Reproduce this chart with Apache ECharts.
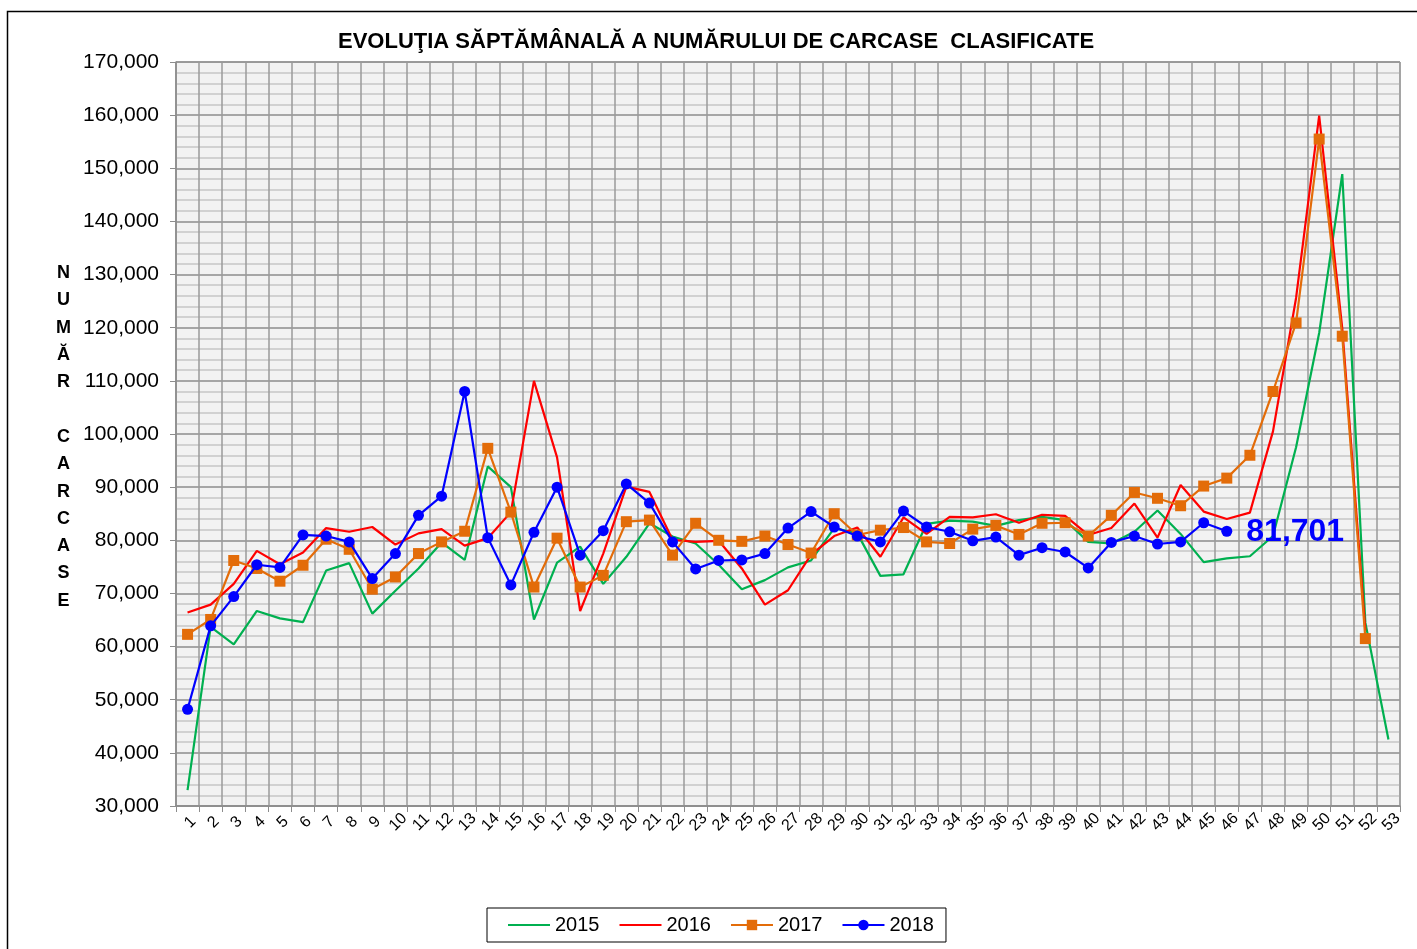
<!DOCTYPE html>
<html>
<head>
<meta charset="utf-8">
<title>Evolutia saptamanala carcase</title>
<script src="https://cdn.jsdelivr.net/npm/echarts@6/dist/echarts.min.js"></script>
<style>
	html, body { margin: 0; padding: 0; background: #fff; }
	#main { width: 1417px; height: 949px; }
</style>
</head>
<body>
<div id="main"></div>
<script>
// saptamanile 1..53
var saptamani = [];
for (var i = 1; i <= 53; i++) saptamani.push(String(i));

var ani = ['2015', '2016', '2017', '2018'];

// valori
var data2015 = [33000, 63700, 60400, 66700, 65300, 64600, 74300, 75700, 66200, 70500,
	74700, 79600, 76300, 93900, 90000, 65100, 75800, 78800, 71800, 76900,
	83200, 80700, 79400, 75400, 70800, 72500, 74900, 76200, 82300, 81300,
	73300, 73600, 83100, 83700, 83500, 82700, 83800, 84400, 83800, 79700,
	79400, 81600, 85600, 81200, 75900, 76600, 77000, 80800, 97500, 119000,
	148900, 64500, 42500];
var data2016 = [66400, 67900, 71800, 78000, 75500, 77700, 82300, 81600, 82500, 79200,
	81300, 82100, 79000, 80400, 85300, 110000, 95600, 66700, 77500, 90100,
	89100, 80100, 79700, 79900, 74700, 67900, 70600, 77300, 80800, 82400,
	76900, 84300, 81200, 84400, 84300, 84900, 83300, 84800, 84600, 81000,
	82300, 86900, 80500, 90400, 85400, 84000, 85200, 100500, 125600, 159900,
	119900, 63000];
var data2017 = [62300, 65100, 76200, 74700, 72300, 75300, 80200, 78300, 70800, 73100,
	77500, 79700, 81700, 97300, 85300, 71200, 80400, 71200, 73400, 83500,
	83800, 77200, 83200, 80000, 79800, 80800, 79200, 77600, 85000, 81000,
	81900, 82400, 79700, 79400, 82100, 82800, 81100, 83200, 83300, 80800,
	84700, 89000, 87900, 86500, 90200, 91700, 96000, 108000, 120900, 155500,
	118400, 61500];
var data2018 = [48200, 63900, 69400, 75400, 74900, 81000, 80800, 79700, 72800, 77500,
	84700, 88300, 108000, 80500, 71600, 81500, 90000, 77200, 81800, 90600,
	87000, 79700, 74600, 76200, 76300, 77500, 82300, 85400, 82500, 80800,
	79700, 85500, 82500, 81600, 79900, 80600, 77200, 78600, 77800, 74800,
	79600, 80800, 79300, 79700, 83300, 81701];

var culori = ['#00b050', '#ff0000', '#e36c09', '#0000ff'];
var fontText = '"Liberation Sans", Arial, sans-serif';

function fmt(v) {
	return Number(v).toLocaleString('en-US');
}

// ultima valoare 2018 cu eticheta mare
var serie2018 = data2018.map(function(v, idx) {
	if (idx === data2018.length - 1) {
		return {
			value: v,
			label: {
				show: true,
				position: 'right',
				offset: [9, 1],
				formatter: function(p) { return fmt(p.value); },
				fontSize: 32,
				fontWeight: 'bold',
				fontFamily: fontText,
				color: '#0000ff'
			}
		};
	}
	return v;
});

var myChart = echarts.init(document.getElementById('main'));
var option;

option = {
	backgroundColor: '#ffffff',
	textStyle: { fontFamily: fontText },
	animation: false,
	title: {
		text: 'EVOLUŢIA SĂPTĂMÂNALĂ A NUMĂRULUI DE CARCASE  CLASIFICATE',
		left: 333,
		top: 26,
		textStyle: {
			fontSize: 22,
			fontWeight: 'bold',
			color: '#000',
			fontFamily: fontText
		}
	},
	graphic: [
		{
			type: 'rect',
			shape: { x: 7.5, y: 11.5, width: 1430, height: 960 },
			style: { fill: 'none', stroke: '#000', lineWidth: 1.5 },
			silent: true
		},
		{
			type: 'text',
			x: 63.5,
			y: 437,
			style: {
				text: 'N\nU\nM\nĂ\nR\n\nC\nA\nR\nC\nA\nS\nE',
				align: 'center',
				verticalAlign: 'middle',
				lineHeight: 27.3,
				fontSize: 18,
				fontWeight: 'bold',
				fontFamily: fontText,
				fill: '#000'
			}
		}
	],
	legend: {
		// 2015 si 2016 fara marker in legenda
		data: [
			{ name: ani[0], itemStyle: { opacity: 0 } },
			{ name: ani[1], itemStyle: { opacity: 0 } },
			{ name: ani[2] },
			{ name: ani[3] }
		],
		left: 487,
		bottom: 7,
		padding: [7, 12, 7, 20],
		itemGap: 19,
		itemWidth: 42,
		itemHeight: 13,
		borderColor: '#000',
		borderWidth: 1,
		borderRadius: 0,
		textStyle: {
			fontSize: 20,
			color: '#000',
			fontFamily: fontText
		}
	},
	grid: {
		left: 176,
		right: 17,
		top: 62,
		bottom: 143,
		show: true,
		backgroundColor: '#f2f2f2',
		borderColor: '#8c8c8c',
		borderWidth: 1
	},
	xAxis: {
		type: 'category',
		data: saptamani,
		boundaryGap: true,
		axisLine: { lineStyle: { color: '#8c8c8c', width: 1.5 } },
		axisTick: { show: true, interval: 0, length: 6, lineStyle: { color: '#8c8c8c' } },
		axisLabel: {
			interval: 0,
			rotate: 45,
			align: 'center',
			verticalAlign: 'middle',
			fontSize: 16,
			color: '#000',
			margin: 19,
			padding: [0, 0, 0, 8],
			fontFamily: fontText
		},
		splitLine: { show: true, interval: 0, lineStyle: { color: '#9a9a9a', width: 1.5 } }
	},
	yAxis: {
		type: 'value',
		min: 30000,
		max: 170000,
		interval: 10000,
		axisLine: { show: true, lineStyle: { color: '#8c8c8c', width: 1.5 } },
		axisTick: { show: true, length: 6, lineStyle: { color: '#8c8c8c' } },
		axisLabel: {
			formatter: function(v) { return fmt(v); },
			fontSize: 21,
			color: '#000',
			margin: 17,
			fontFamily: fontText
		},
		splitLine: { show: true, lineStyle: { color: '#8c8c8c', width: 1.5 } },
		minorTick: { show: false, splitNumber: 5 },
		minorSplitLine: { show: true, lineStyle: { color: '#c6c6c6', width: 1.5 } }
	},
	series: [
		{
			name: '2015',
			type: 'line',
			data: data2015,
			symbol: 'none',
			color: culori[0],
			lineStyle: { width: 2.2, color: culori[0] },
			z: 2
		},
		{
			name: '2016',
			type: 'line',
			data: data2016,
			symbol: 'none',
			color: culori[1],
			lineStyle: { width: 2.2, color: culori[1] },
			z: 3
		},
		{
			name: '2017',
			type: 'line',
			data: data2017,
			symbol: 'rect',
			symbolSize: 11,
			color: culori[2],
			itemStyle: { color: culori[2] },
			lineStyle: { width: 2.2, color: culori[2] },
			z: 4
		},
		{
			name: '2018',
			type: 'line',
			data: serie2018,
			symbol: 'circle',
			symbolSize: 11,
			color: culori[3],
			itemStyle: { color: culori[3] },
			lineStyle: { width: 2.2, color: culori[3] },
			z: 5
		}
	]
};

option && myChart.setOption(option);
</script>
</body>
</html>
